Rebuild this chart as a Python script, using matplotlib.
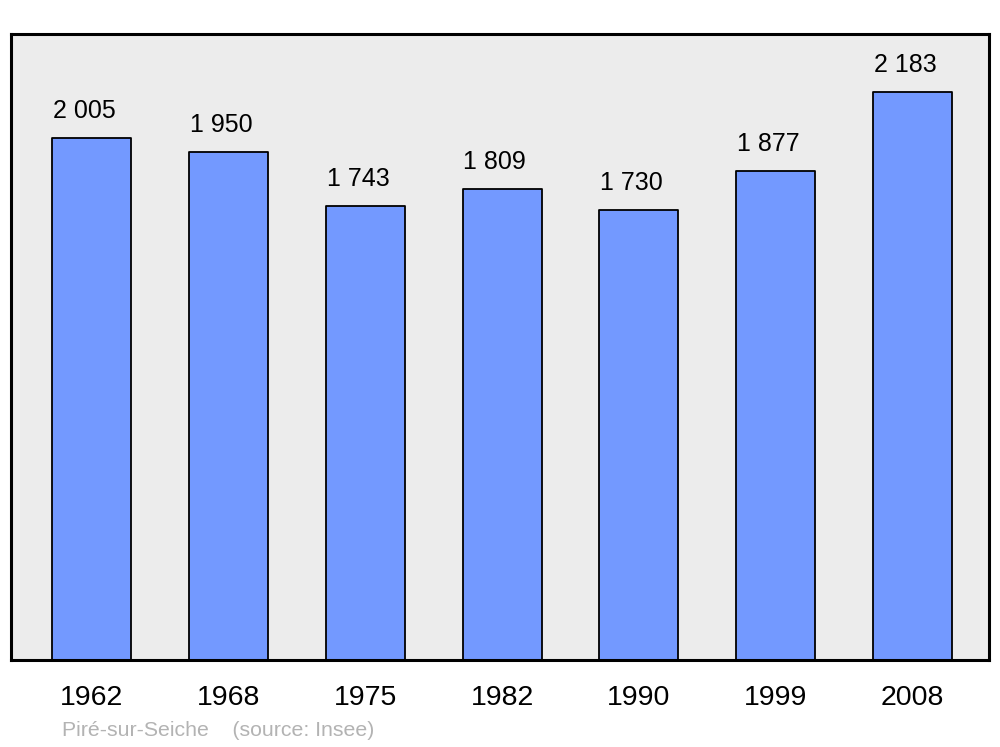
import matplotlib
matplotlib.use('Agg')
from matplotlib import pyplot as plt

# 数据
years = ['1962', '1968', '1975', '1982', '1990', '1999', '2008']
population = [2005, 1950, 1743, 1809, 1730, 1877, 2183]
labels = ['2 005', '1 950', '1 743', '1 809', '1 730', '1 877', '2 183']

plt.rcParams['font.family'] = ['Liberation Sans', 'DejaVu Sans']

fig = plt.figure(figsize=(10, 7.47), dpi=100)
ax = fig.add_axes([0.011, 1 - 660 / 747, 0.978, 626 / 747])
ax.set_facecolor('#ececec')

x = range(len(years))
bars = ax.bar(x, population, width=0.578, color='#7399ff', edgecolor='black',
              linewidth=1.3, zorder=2)
for b in bars:
    b.set_joinstyle('round')

# 柱顶数值
for i, (v, t) in enumerate(zip(population, labels)):
    ax.annotate(t, (i, v), xytext=(-7.5, 27), textcoords='offset pixels',
                ha='center', va='center', fontsize=18)

ax.set_xlim(-0.592, 6.56)
ax.set_ylim(0, 2405)
ax.set_yticks([])
ax.set_xticks(list(x))
ax.set_xticklabels(years, fontsize=20.5)
ax.tick_params(axis='x', length=0, pad=18)
for s in ax.spines.values():
    s.set_linewidth(2.2)
    s.set_joinstyle('round')

fig.text(0.062, 1 - 730 / 747, 'Piré-sur-Seiche    (source: Insee)',
         color='#b3b3b3', fontsize=15.3, va='center', ha='left')

plt.savefig('out.png', dpi=100)
